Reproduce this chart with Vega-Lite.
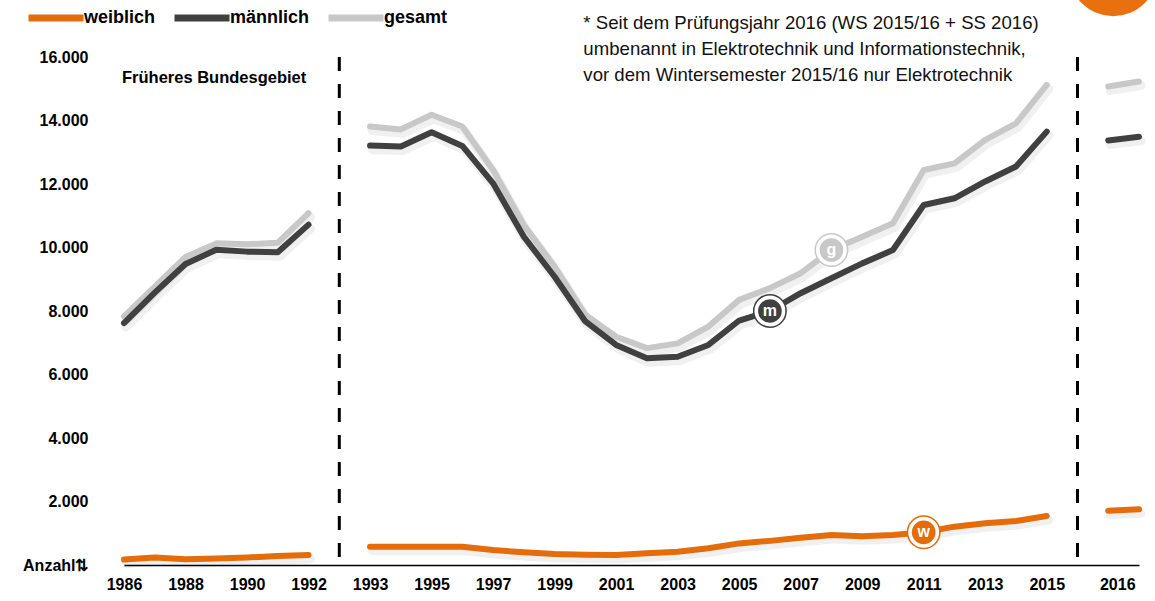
{
  "$schema": "https://vega.github.io/schema/vega-lite/v6.json",
  "width": 1060,
  "height": 508,
  "autosize": "none",
  "padding": {"left": 95, "top": 57, "right": 0, "bottom": 36},
  "background": "white",
  "config": {"view": {"stroke": null}, "font": "Liberation Sans"},
  "datasets": {
    "werte": [
      {"Jahr": "1986", "Geschlecht": "gesamt", "Anzahl": 7830, "Abschnitt": "West"},
      {"Jahr": "1987", "Geschlecht": "gesamt", "Anzahl": 8770, "Abschnitt": "West"},
      {"Jahr": "1988", "Geschlecht": "gesamt", "Anzahl": 9700, "Abschnitt": "West"},
      {"Jahr": "1989", "Geschlecht": "gesamt", "Anzahl": 10130, "Abschnitt": "West"},
      {"Jahr": "1990", "Geschlecht": "gesamt", "Anzahl": 10100, "Abschnitt": "West"},
      {"Jahr": "1991", "Geschlecht": "gesamt", "Anzahl": 10150, "Abschnitt": "West"},
      {"Jahr": "1992", "Geschlecht": "gesamt", "Anzahl": 11080, "Abschnitt": "West"},
      {"Jahr": "1993", "Geschlecht": "gesamt", "Anzahl": 13810, "Abschnitt": "Deutschland"},
      {"Jahr": "1994", "Geschlecht": "gesamt", "Anzahl": 13720, "Abschnitt": "Deutschland"},
      {"Jahr": "1995", "Geschlecht": "gesamt", "Anzahl": 14180, "Abschnitt": "Deutschland"},
      {"Jahr": "1996", "Geschlecht": "gesamt", "Anzahl": 13810, "Abschnitt": "Deutschland"},
      {"Jahr": "1997", "Geschlecht": "gesamt", "Anzahl": 12440, "Abschnitt": "Deutschland"},
      {"Jahr": "1998", "Geschlecht": "gesamt", "Anzahl": 10710, "Abschnitt": "Deutschland"},
      {"Jahr": "1999", "Geschlecht": "gesamt", "Anzahl": 9400, "Abschnitt": "Deutschland"},
      {"Jahr": "2000", "Geschlecht": "gesamt", "Anzahl": 7880, "Abschnitt": "Deutschland"},
      {"Jahr": "2001", "Geschlecht": "gesamt", "Anzahl": 7190, "Abschnitt": "Deutschland"},
      {"Jahr": "2002", "Geschlecht": "gesamt", "Anzahl": 6830, "Abschnitt": "Deutschland"},
      {"Jahr": "2003", "Geschlecht": "gesamt", "Anzahl": 6980, "Abschnitt": "Deutschland"},
      {"Jahr": "2004", "Geschlecht": "gesamt", "Anzahl": 7510, "Abschnitt": "Deutschland"},
      {"Jahr": "2005", "Geschlecht": "gesamt", "Anzahl": 8350, "Abschnitt": "Deutschland"},
      {"Jahr": "2006", "Geschlecht": "gesamt", "Anzahl": 8720, "Abschnitt": "Deutschland"},
      {"Jahr": "2007", "Geschlecht": "gesamt", "Anzahl": 9190, "Abschnitt": "Deutschland"},
      {"Jahr": "2008", "Geschlecht": "gesamt", "Anzahl": 9920, "Abschnitt": "Deutschland"},
      {"Jahr": "2009", "Geschlecht": "gesamt", "Anzahl": 10340, "Abschnitt": "Deutschland"},
      {"Jahr": "2010", "Geschlecht": "gesamt", "Anzahl": 10760, "Abschnitt": "Deutschland"},
      {"Jahr": "2011", "Geschlecht": "gesamt", "Anzahl": 12440, "Abschnitt": "Deutschland"},
      {"Jahr": "2012", "Geschlecht": "gesamt", "Anzahl": 12650, "Abschnitt": "Deutschland"},
      {"Jahr": "2013", "Geschlecht": "gesamt", "Anzahl": 13390, "Abschnitt": "Deutschland"},
      {"Jahr": "2014", "Geschlecht": "gesamt", "Anzahl": 13910, "Abschnitt": "Deutschland"},
      {"Jahr": "2015", "Geschlecht": "gesamt", "Anzahl": 15120, "Abschnitt": "Deutschland"},
      {"Jahr": "2016", "Geschlecht": "gesamt", "Anzahl": 15070, "Abschnitt": "ab 2016"},
      {"Jahr": "2017", "Geschlecht": "gesamt", "Anzahl": 15230, "Abschnitt": "ab 2016"},
      {"Jahr": "1986", "Geschlecht": "männlich", "Anzahl": 7620, "Abschnitt": "West"},
      {"Jahr": "1987", "Geschlecht": "männlich", "Anzahl": 8580, "Abschnitt": "West"},
      {"Jahr": "1988", "Geschlecht": "männlich", "Anzahl": 9480, "Abschnitt": "West"},
      {"Jahr": "1989", "Geschlecht": "männlich", "Anzahl": 9930, "Abschnitt": "West"},
      {"Jahr": "1990", "Geschlecht": "männlich", "Anzahl": 9870, "Abschnitt": "West"},
      {"Jahr": "1991", "Geschlecht": "männlich", "Anzahl": 9850, "Abschnitt": "West"},
      {"Jahr": "1992", "Geschlecht": "männlich", "Anzahl": 10720, "Abschnitt": "West"},
      {"Jahr": "1993", "Geschlecht": "männlich", "Anzahl": 13210, "Abschnitt": "Deutschland"},
      {"Jahr": "1994", "Geschlecht": "männlich", "Anzahl": 13180, "Abschnitt": "Deutschland"},
      {"Jahr": "1995", "Geschlecht": "männlich", "Anzahl": 13630, "Abschnitt": "Deutschland"},
      {"Jahr": "1996", "Geschlecht": "männlich", "Anzahl": 13200, "Abschnitt": "Deutschland"},
      {"Jahr": "1997", "Geschlecht": "männlich", "Anzahl": 12020, "Abschnitt": "Deutschland"},
      {"Jahr": "1998", "Geschlecht": "männlich", "Anzahl": 10340, "Abschnitt": "Deutschland"},
      {"Jahr": "1999", "Geschlecht": "männlich", "Anzahl": 9080, "Abschnitt": "Deutschland"},
      {"Jahr": "2000", "Geschlecht": "männlich", "Anzahl": 7670, "Abschnitt": "Deutschland"},
      {"Jahr": "2001", "Geschlecht": "männlich", "Anzahl": 6930, "Abschnitt": "Deutschland"},
      {"Jahr": "2002", "Geschlecht": "männlich", "Anzahl": 6510, "Abschnitt": "Deutschland"},
      {"Jahr": "2003", "Geschlecht": "männlich", "Anzahl": 6560, "Abschnitt": "Deutschland"},
      {"Jahr": "2004", "Geschlecht": "männlich", "Anzahl": 6930, "Abschnitt": "Deutschland"},
      {"Jahr": "2005", "Geschlecht": "männlich", "Anzahl": 7700, "Abschnitt": "Deutschland"},
      {"Jahr": "2006", "Geschlecht": "männlich", "Anzahl": 8000, "Abschnitt": "Deutschland"},
      {"Jahr": "2007", "Geschlecht": "männlich", "Anzahl": 8560, "Abschnitt": "Deutschland"},
      {"Jahr": "2008", "Geschlecht": "männlich", "Anzahl": 9030, "Abschnitt": "Deutschland"},
      {"Jahr": "2009", "Geschlecht": "männlich", "Anzahl": 9500, "Abschnitt": "Deutschland"},
      {"Jahr": "2010", "Geschlecht": "männlich", "Anzahl": 9920, "Abschnitt": "Deutschland"},
      {"Jahr": "2011", "Geschlecht": "männlich", "Anzahl": 11340, "Abschnitt": "Deutschland"},
      {"Jahr": "2012", "Geschlecht": "männlich", "Anzahl": 11550, "Abschnitt": "Deutschland"},
      {"Jahr": "2013", "Geschlecht": "männlich", "Anzahl": 12080, "Abschnitt": "Deutschland"},
      {"Jahr": "2014", "Geschlecht": "männlich", "Anzahl": 12550, "Abschnitt": "Deutschland"},
      {"Jahr": "2015", "Geschlecht": "männlich", "Anzahl": 13650, "Abschnitt": "Deutschland"},
      {"Jahr": "2016", "Geschlecht": "männlich", "Anzahl": 13370, "Abschnitt": "ab 2016"},
      {"Jahr": "2017", "Geschlecht": "männlich", "Anzahl": 13490, "Abschnitt": "ab 2016"},
      {"Jahr": "1986", "Geschlecht": "weiblich", "Anzahl": 170, "Abschnitt": "West"},
      {"Jahr": "1987", "Geschlecht": "weiblich", "Anzahl": 236, "Abschnitt": "West"},
      {"Jahr": "1988", "Geschlecht": "weiblich", "Anzahl": 180, "Abschnitt": "West"},
      {"Jahr": "1989", "Geschlecht": "weiblich", "Anzahl": 202, "Abschnitt": "West"},
      {"Jahr": "1990", "Geschlecht": "weiblich", "Anzahl": 236, "Abschnitt": "West"},
      {"Jahr": "1991", "Geschlecht": "weiblich", "Anzahl": 281, "Abschnitt": "West"},
      {"Jahr": "1992", "Geschlecht": "weiblich", "Anzahl": 315, "Abschnitt": "West"},
      {"Jahr": "1993", "Geschlecht": "weiblich", "Anzahl": 577, "Abschnitt": "Deutschland"},
      {"Jahr": "1994", "Geschlecht": "weiblich", "Anzahl": 577, "Abschnitt": "Deutschland"},
      {"Jahr": "1995", "Geschlecht": "weiblich", "Anzahl": 577, "Abschnitt": "Deutschland"},
      {"Jahr": "1996", "Geschlecht": "weiblich", "Anzahl": 577, "Abschnitt": "Deutschland"},
      {"Jahr": "1997", "Geschlecht": "weiblich", "Anzahl": 472, "Abschnitt": "Deutschland"},
      {"Jahr": "1998", "Geschlecht": "weiblich", "Anzahl": 399, "Abschnitt": "Deutschland"},
      {"Jahr": "1999", "Geschlecht": "weiblich", "Anzahl": 346, "Abschnitt": "Deutschland"},
      {"Jahr": "2000", "Geschlecht": "weiblich", "Anzahl": 326, "Abschnitt": "Deutschland"},
      {"Jahr": "2001", "Geschlecht": "weiblich", "Anzahl": 315, "Abschnitt": "Deutschland"},
      {"Jahr": "2002", "Geschlecht": "weiblich", "Anzahl": 367, "Abschnitt": "Deutschland"},
      {"Jahr": "2003", "Geschlecht": "weiblich", "Anzahl": 420, "Abschnitt": "Deutschland"},
      {"Jahr": "2004", "Geschlecht": "weiblich", "Anzahl": 525, "Abschnitt": "Deutschland"},
      {"Jahr": "2005", "Geschlecht": "weiblich", "Anzahl": 680, "Abschnitt": "Deutschland"},
      {"Jahr": "2006", "Geschlecht": "weiblich", "Anzahl": 760, "Abschnitt": "Deutschland"},
      {"Jahr": "2007", "Geschlecht": "weiblich", "Anzahl": 860, "Abschnitt": "Deutschland"},
      {"Jahr": "2008", "Geschlecht": "weiblich", "Anzahl": 945, "Abschnitt": "Deutschland"},
      {"Jahr": "2009", "Geschlecht": "weiblich", "Anzahl": 905, "Abschnitt": "Deutschland"},
      {"Jahr": "2010", "Geschlecht": "weiblich", "Anzahl": 945, "Abschnitt": "Deutschland"},
      {"Jahr": "2011", "Geschlecht": "weiblich", "Anzahl": 1030, "Abschnitt": "Deutschland"},
      {"Jahr": "2012", "Geschlecht": "weiblich", "Anzahl": 1208, "Abschnitt": "Deutschland"},
      {"Jahr": "2013", "Geschlecht": "weiblich", "Anzahl": 1313, "Abschnitt": "Deutschland"},
      {"Jahr": "2014", "Geschlecht": "weiblich", "Anzahl": 1386, "Abschnitt": "Deutschland"},
      {"Jahr": "2015", "Geschlecht": "weiblich", "Anzahl": 1543, "Abschnitt": "Deutschland"},
      {"Jahr": "2016", "Geschlecht": "weiblich", "Anzahl": 1711, "Abschnitt": "ab 2016"},
      {"Jahr": "2017", "Geschlecht": "weiblich", "Anzahl": 1754, "Abschnitt": "ab 2016"}
    ],
    "marken": [
      {"Jahr": "2008", "Anzahl": 9920, "Geschlecht": "gesamt", "Kurz": "g"},
      {"Jahr": "2006", "Anzahl": 8000, "Geschlecht": "männlich", "Kurz": "m"},
      {"Jahr": "2011", "Anzahl": 1030, "Geschlecht": "weiblich", "Kurz": "w"}
    ],
    "trenner": [
      {"Jahr": "Trenner1", "Anzahl": 16000, "Bis": 0},
      {"Jahr": "Trenner2", "Anzahl": 16000, "Bis": 0}
    ]
  },
  "encoding": {
    "x": {
      "field": "Jahr",
      "type": "ordinal",
      "scale": {
        "type": "point",
        "padding": 0,
        "domain": ["1986","1987","1988","1989","1990","1991","1992","Trenner1","1993","1994","1995","1996","1997","1998","1999","2000","2001","2002","2003","2004","2005","2006","2007","2008","2009","2010","2011","2012","2013","2014","2015","Trenner2","2016","2017"],
        "range": [29, 1044]
      },
      "axis": {
        "title": null,
        "values": ["1986","1988","1990","1992","1993","1995","1997","1999","2001","2003","2005","2007","2009","2011","2013","2015","2016"],
        "labelAngle": 0,
        "ticks": false,
        "grid": false,
        "domainColor": "#000000",
        "domainWidth": 1.5,
        "labelFont": "Liberation Sans",
        "labelFontWeight": "bold",
        "labelFontSize": 16,
        "labelColor": "#000000",
        "labelPadding": 11,
        "labelOffset": {"condition": {"test": "datum.value == '2016'", "value": 9}, "value": 0}
      }
    },
    "y": {
      "field": "Anzahl",
      "type": "quantitative",
      "scale": {"domain": [0, 16000], "nice": false, "zero": true},
      "axis": {
        "title": null,
        "values": [0, 2000, 4000, 6000, 8000, 10000, 12000, 14000, 16000],
        "labelExpr": "datum.value == 0 ? 'Anzahl⇅' : replace(format(datum.value, ','), ',', '.')",
        "ticks": false,
        "domain": false,
        "grid": false,
        "labelFont": "Liberation Sans",
        "labelFontWeight": "bold",
        "labelFontSize": 16,
        "labelColor": "#000000",
        "labelPadding": 7,
        "labelFlush": false
      }
    }
  },
  "layer": [
    {
      "data": {"values": [{"Jahr": "2016", "Anzahl": 18680}]},
      "mark": {"type": "point", "shape": "circle", "filled": true, "opacity": 1, "color": "#E8700E", "size": 7854, "xOffset": 5, "clip": false}
    },
    {
      "data": {"name": "trenner"},
      "mark": {"type": "rule", "color": "#000000", "strokeWidth": 3, "strokeDash": [14, 13]},
      "encoding": {
        "y2": {"field": "Bis"}
      }
    },
    {
      "data": {"name": "werte"},
      "mark": {"type": "line", "strokeWidth": 9, "strokeCap": "round", "strokeJoin": "round", "color": "#000000", "opacity": 0.06, "yOffset": 4, "xOffset": 2},
      "encoding": {
        "detail": {"field": "Geschlecht", "type": "nominal"},
        "strokeDash": {"field": "Abschnitt", "type": "nominal", "legend": null, "scale": {"range": [[1, 0], [1, 0], [1, 0]]}}
      }
    },
    {
      "data": {"name": "werte"},
      "mark": {"type": "line", "strokeWidth": 6, "strokeCap": "round", "strokeJoin": "round"},
      "encoding": {
        "color": {
          "field": "Geschlecht",
          "type": "nominal",
          "scale": {"domain": ["weiblich", "männlich", "gesamt"], "range": ["#E46C0A", "#404040", "#C8C8C8"]},
          "legend": {
            "title": null,
            "orient": "none",
            "legendX": -70,
            "legendY": -70,
            "direction": "horizontal",
            "symbolType": "stroke",
            "symbolSize": 3025,
            "symbolStrokeWidth": 7,
            "labelFont": "Liberation Sans",
            "labelFontSize": 18,
            "labelFontWeight": "bold",
            "labelColor": "#000000",
            "labelOffset": -3,
            "columnPadding": 4,
            "padding": 0
          }
        },
        "detail": {"field": "Abschnitt", "type": "nominal"}
      }
    },
    {
      "data": {"name": "marken"},
      "mark": {"type": "point", "shape": "circle", "filled": false, "fill": "#ffffff", "fillOpacity": 1, "opacity": 1, "size": 1050, "strokeWidth": 1.5},
      "encoding": {
        "stroke": {
          "field": "Geschlecht",
          "type": "nominal",
          "scale": {"domain": ["weiblich", "männlich", "gesamt"], "range": ["#E46C0A", "#404040", "#C8C8C8"]},
          "legend": null
        }
      }
    },
    {
      "data": {"name": "marken"},
      "mark": {"type": "point", "shape": "circle", "filled": true, "opacity": 1, "size": 560, "strokeWidth": 0},
      "encoding": {
        "fill": {
          "field": "Geschlecht",
          "type": "nominal",
          "scale": {"domain": ["weiblich", "männlich", "gesamt"], "range": ["#E46C0A", "#404040", "#C8C8C8"]},
          "legend": null
        }
      }
    },
    {
      "data": {"name": "marken"},
      "mark": {"type": "text", "color": "#ffffff", "font": "Liberation Sans", "fontWeight": "bold", "fontSize": 16, "baseline": "middle", "align": "center", "dy": 0},
      "encoding": {"text": {"field": "Kurz", "type": "nominal"}}
    },
    {
      "data": {"values": [{"Jahr": "1986", "Anzahl": 15340, "Text": "Früheres Bundesgebiet"}]},
      "mark": {"type": "text", "align": "left", "baseline": "middle", "dx": -2, "font": "Liberation Sans", "fontWeight": "bold", "fontSize": 16.5, "color": "#000000"},
      "encoding": {"text": {"field": "Text", "type": "nominal"}}
    },
    {
      "data": {"values": [{"Jahr": "2000", "Anzahl": 17350, "Text": "* Seit dem Prüfungsjahr 2016 (WS 2015/16 + SS 2016)\numbenannt in Elektrotechnik und Informationstechnik,\nvor dem Wintersemester 2015/16 nur Elektrotechnik"}]},
      "mark": {"type": "text", "align": "left", "baseline": "top", "dx": -2, "font": "Liberation Sans", "fontSize": 18.6, "lineHeight": 26, "lineBreak": "\n", "color": "#111111", "clip": false},
      "encoding": {"text": {"field": "Text", "type": "nominal"}}
    }
  ]
}
